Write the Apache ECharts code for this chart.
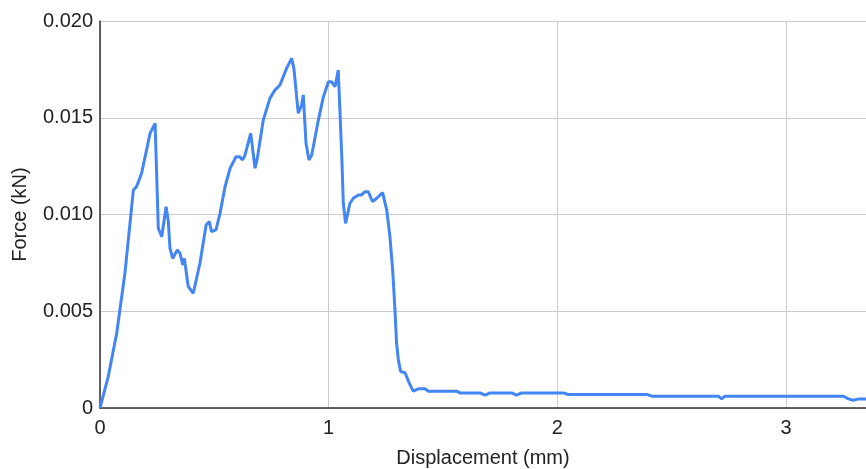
<!DOCTYPE html>
<html>
<head>
<meta charset="utf-8">
<script src="https://cdn.jsdelivr.net/npm/echarts@6/dist/echarts.min.js"></script>
<style>html,body{margin:0;padding:0;background:#fff}#c{width:866px;height:469px}</style>
</head>
<body>
<div id="c"></div>
<script>
var displacement = [0,0.036,0.073,0.109,0.146,0.160,0.182,0.219,0.241,0.255,0.270,0.289,0.299,0.306,0.318,0.338,0.350,0.362,0.369,0.386,0.408,0.437,0.464,0.478,0.488,0.507,0.525,0.547,0.569,0.595,0.609,0.624,0.634,0.659,0.678,0.688,0.714,0.743,0.765,0.787,0.816,0.838,0.848,0.867,0.882,0.889,0.901,0.914,0.926,0.955,0.977,0.999,1.013,1.028,1.042,1.058,1.064,1.074,1.093,1.108,1.130,1.144,1.159,1.173,1.192,1.210,1.236,1.254,1.268,1.280,1.290,1.297,1.305,1.315,1.334,1.353,1.370,1.392,1.421,1.436,1.560,1.574,1.662,1.684,1.706,1.800,1.822,1.844,2.026,2.048,2.391,2.413,2.704,2.719,2.733,3.251,3.273,3.295,3.317,3.351];
var force = [0,1.62,3.86,6.96,11.27,11.44,12.13,14.19,14.71,9.29,8.85,10.40,9.63,8.25,7.73,8.17,7.99,7.39,7.73,6.27,5.93,7.48,9.46,9.63,9.11,9.20,10.06,11.44,12.39,12.99,12.99,12.82,13.07,14.19,12.39,12.90,14.88,16.00,16.43,16.69,17.55,18.07,17.55,15.23,15.66,16.18,13.68,12.82,13.07,14.88,16.09,16.86,16.86,16.61,17.47,12.82,10.58,9.54,10.58,10.84,11.01,11.01,11.18,11.18,10.66,10.84,11.13,10.23,8.85,7.13,5.06,3.34,2.48,1.88,1.82,1.27,0.87,0.99,0.99,0.87,0.87,0.78,0.78,0.66,0.78,0.78,0.66,0.78,0.78,0.70,0.70,0.61,0.61,0.47,0.61,0.61,0.47,0.40,0.47,0.47];
var yTicks = ['0','0.005','0.010','0.015','0.020'];

var pts = displacement.map(function(x,i){return [x, force[i]/1000];});
var font = '"Liberation Sans", Arial, sans-serif';
var chart = echarts.init(document.getElementById('c'));
chart.setOption({
  animation:false,
  grid:{left:100,right:0,top:21,bottom:61,containLabel:false,outerBoundsMode:'none'},
  xAxis:{
    type:'value',min:0,max:3.35,interval:1,
    name:'Displacement (mm)',nameLocation:'middle',nameGap:40,
    nameTextStyle:{fontFamily:font,fontSize:20,color:'#222'},
    axisLine:{show:true,lineStyle:{color:'#333',width:1.5}},
    axisTick:{show:false},
    axisLabel:{fontFamily:font,fontSize:20,color:'#222',margin:10,
      formatter:function(v){return Math.abs(v-Math.round(v))<1e-9?String(Math.round(v)):'';}},
    splitLine:{show:true,lineStyle:{color:'#ccc',width:1}}
  },
  yAxis:{
    type:'value',min:0,max:0.02,interval:0.005,
    name:'Force (kN)',nameLocation:'middle',nameGap:70,
    nameTextStyle:{fontFamily:font,fontSize:20,color:'#222'},
    axisLine:{show:true,lineStyle:{color:'#333',width:1.5}},
    axisTick:{show:false},
    axisLabel:{fontFamily:font,fontSize:20,color:'#222',margin:7,
      formatter:function(v){return yTicks[Math.round(v/0.005)];}},
    splitLine:{show:true,lineStyle:{color:'#ccc',width:1}}
  },
  series:[{type:'line',data:pts,showSymbol:false,symbol:'none',
    lineStyle:{color:'#4285f4',width:3},itemStyle:{color:'#4285f4'}}]
});
</script>
</body>
</html>
